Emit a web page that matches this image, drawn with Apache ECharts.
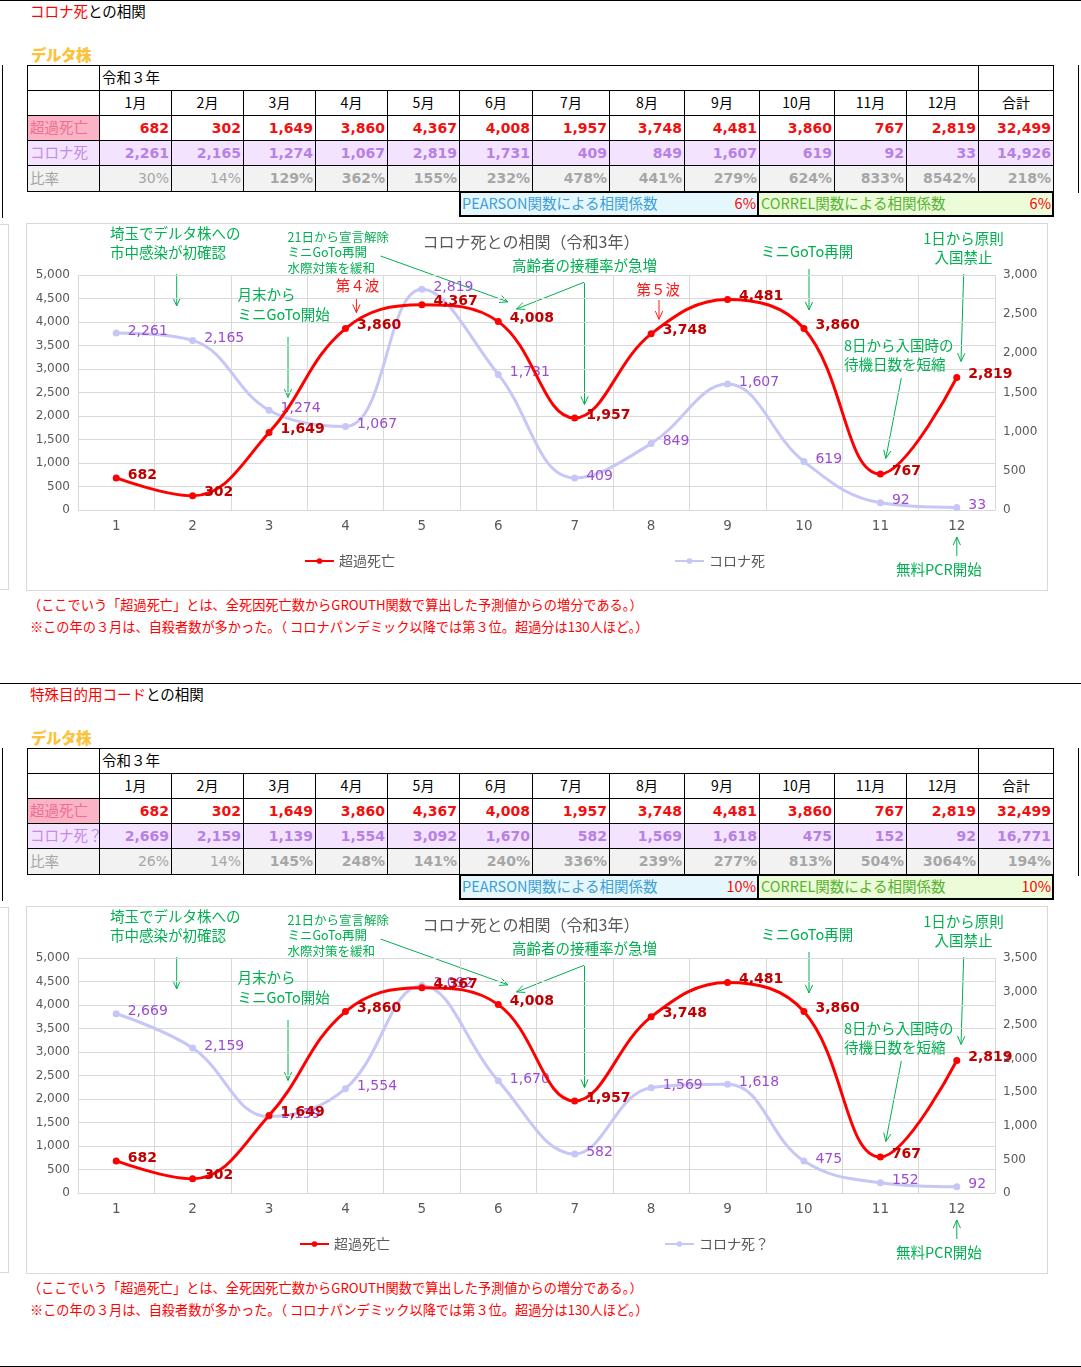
<!DOCTYPE html>
<html>
<head>
<meta charset="utf-8" />
<script src="https://cdn.jsdelivr.net/npm/echarts/dist/echarts.min.js"></script>
<style>
    body { margin: 0; background: #fff; }
    #page { position: relative; width: 1081px; height: 1367px; overflow: hidden; font-family: "Noto Sans CJK JP", sans-serif; color: #000; }
    .abs { position: absolute; white-space: nowrap; }
    .cell { position: absolute; box-sizing: border-box; border: 1px solid #000; font-size: 14px; white-space: nowrap; overflow: hidden;
            display: flex; align-items: center; padding-bottom: 3px; }
    .num { font-family: "DejaVu Sans", sans-serif; font-weight: bold; justify-content: flex-end; padding-right: 2px; font-size: 14px; padding-bottom: 1px; }
    .ctr { justify-content: center; }
    .lbl { padding-left: 2px; font-size: 14.5px; }
    .chartbox { position: absolute; box-sizing: border-box; border: 1px solid #d9d9d9; }
</style>
</head>
<body>
<div id="page"></div>
<script type="text/javascript">
    // ---- data ----
    var monthLabels = ['1月', '2月', '3月', '4月', '5月', '6月', '7月', '8月', '9月', '10月', '11月', '12月'];
    var xTicks = ['1', '2', '3', '4', '5', '6', '7', '8', '9', '10', '11', '12'];
    var excessDeaths = [682, 302, 1649, 3860, 4367, 4008, 1957, 3748, 4481, 3860, 767, 2819];
    var excessTotal = 32499;

    var coronaDeaths = [2261, 2165, 1274, 1067, 2819, 1731, 409, 849, 1607, 619, 92, 33];
    var coronaTotal = 14926;
    var ratio1 = ['30%', '14%', '129%', '362%', '155%', '232%', '478%', '441%', '279%', '624%', '833%', '8542%'];
    var ratioTotal1 = '218%';
    var pearson1 = '6%';
    var correl1 = '6%';

    var specialCodeDeaths = [2669, 2159, 1139, 1554, 3092, 1670, 582, 1569, 1618, 475, 152, 92];
    var specialCodeTotal = 16771;
    var ratio2 = ['26%', '14%', '145%', '248%', '141%', '240%', '336%', '239%', '277%', '813%', '504%', '3064%'];
    var ratioTotal2 = '194%';
    var pearson2 = '10%';
    var correl2 = '10%';

    var leftAxisMax = 5000;
    var rightAxisMax1 = 3000;
    var rightAxisMax2 = 3500;

    var colX = [27, 99, 171, 243, 315, 387, 459, 532, 609, 684, 759, 834, 906, 978, 1053];
    var rowY = [65, 90, 115, 140, 165, 191];

    var page = document.getElementById('page');

    function fmt(v) { return v.toLocaleString('en-US'); }

    function add(cls, css, html) {
        var d = document.createElement('div');
        d.className = cls;
        d.style.cssText = css;
        if (html !== undefined) d.innerHTML = html;
        page.appendChild(d);
        return d;
    }

    function cell(x1, y1, x2, y2, text, cls, css) {
        return add('cell ' + (cls || ''), 'left:' + x1 + 'px;top:' + y1 + 'px;width:' + (x2 - x1 + 1) + 'px;height:' + (y2 - y1 + 1) + 'px;' + (css || ''), text);
    }

    function buildSection(off, titleRed, covidLabel, covid, covidTotal, ratio, ratioTotal, pearson, correl, chartId) {
        // frame lines
        add('abs', 'left:0;top:' + off + 'px;width:1081px;height:1px;background:#000;');
        add('abs', 'left:2px;top:' + (off + 65) + 'px;width:1px;height:153px;background:#000;');
        add('abs', 'left:1078px;top:' + (off + 65) + 'px;width:1px;height:128px;background:#000;');
        add('abs', 'left:-1px;top:' + (off + 224) + 'px;width:10px;height:366px;box-sizing:border-box;border:1px solid #d9d9d9;');

        add('abs', 'left:30px;top:' + (off + 1) + 'px;font-size:14.5px;line-height:20px;',
            '<span style="color:#ff0000">' + titleRed + '</span>との相関');
        add('abs', 'left:31px;top:' + (off + 44) + 'px;font-size:15.5px;line-height:20px;font-weight:900;color:#fcc33a;letter-spacing:-0.5px;', 'デルタ株');

        var y = rowY.map(function (v) { return v + off; });
        // header rows
        cell(colX[0], y[0], colX[1], y[1], '');
        cell(colX[1], y[0], colX[13], y[1], '令和３年', 'lbl');
        cell(colX[13], y[0], colX[14], y[1], '');
        cell(colX[0], y[1], colX[1], y[2], '');
        for (var i = 0; i < 12; i++) cell(colX[i + 1], y[1], colX[i + 2], y[2], monthLabels[i], 'ctr');
        cell(colX[13], y[1], colX[14], y[2], '合計', 'ctr');

        // 超過死亡
        cell(colX[0], y[2], colX[1], y[3], '超過死亡', 'lbl', 'background:#fab4c6;color:#ee6f8e;');
        for (i = 0; i < 12; i++) cell(colX[i + 1], y[2], colX[i + 2], y[3], fmt(excessDeaths[i]), 'num', 'color:#f01010;');
        cell(colX[13], y[2], colX[14], y[3], fmt(excessTotal), 'num', 'color:#f01010;');

        // コロナ死
        cell(colX[0], y[3], colX[1], y[4], covidLabel, 'lbl', 'background:#f3e3ff;color:#c48ae8;');
        for (i = 0; i < 12; i++) cell(colX[i + 1], y[3], colX[i + 2], y[4], fmt(covid[i]), 'num', 'background:#f3e3ff;color:#b680e6;');
        cell(colX[13], y[3], colX[14], y[4], fmt(covidTotal), 'num', 'background:#f3e3ff;color:#b680e6;');

        // 比率
        cell(colX[0], y[4], colX[1], y[5], '比率', 'lbl', 'background:#f2f2f2;color:#a6a6a6;');
        for (i = 0; i < 12; i++) {
            var light = i < 2 ? 'font-weight:normal;' : '';
            cell(colX[i + 1], y[4], colX[i + 2], y[5], ratio[i], 'num', 'background:#f2f2f2;color:#a6a6a6;' + light);
        }
        cell(colX[13], y[4], colX[14], y[5], ratioTotal, 'num', 'background:#f2f2f2;color:#a6a6a6;');

        // correlation boxes
        var by = off + 191;
        add('abs', 'left:459px;top:' + by + 'px;width:300px;height:26px;box-sizing:border-box;border:2px solid #000;background:#e5f7fd;');
        add('abs', 'left:757px;top:' + by + 'px;width:297px;height:26px;box-sizing:border-box;border:2px solid #000;background:#edfcd8;');
        add('abs', 'left:462px;top:' + (by + 1) + 'px;font-size:14.5px;line-height:22px;color:#3e9fd6;', 'PEARSON関数による相関係数');
        add('abs', 'left:700px;width:56px;text-align:right;top:' + (by + 1) + 'px;font-size:14.5px;line-height:22px;color:#ff0000;', pearson);
        add('abs', 'left:761px;top:' + (by + 1) + 'px;font-size:14.5px;line-height:22px;color:#55b330;', 'CORREL関数による相関係数');
        add('abs', 'left:990px;width:61px;text-align:right;top:' + (by + 1) + 'px;font-size:14.5px;line-height:22px;color:#ff0000;', correl);

        // chart frame + chart
        add('chartbox', 'left:26px;top:' + (off + 223) + 'px;width:1022px;height:368px;');
        add('abs', 'left:26px;top:' + (off + 223) + 'px;width:1021px;height:367px;').id = chartId;

        // footnotes
        add('abs', 'left:28px;top:' + (off + 595) + 'px;font-size:13.2px;line-height:20px;color:#ff0000;',
            '（ここでいう「超過死亡」とは、全死因死亡数からGROUTH関数で算出した予測値からの増分である。）');
        add('abs', 'left:30px;top:' + (off + 617) + 'px;font-size:13.2px;line-height:20px;color:#ff0000;',
            '※この年の３月は、自殺者数が多かった。（ コロナパンデミック以降では第３位。超過分は130人ほど。）');
    }

    // ---- annotation helpers (chart-local pixels) ----
    var GREEN = '#00b050';
    var RED = '#ff1a1a';
    function txt(x, y, s, color, size, align) {
        return {
            type: 'text', x: x, y: y, z: 50,
            style: { text: s, fill: color, font: size + 'px "Noto Sans CJK JP"', align: align || 'left', verticalAlign: 'middle' }
        };
    }
    function arrow(x1, y1, x2, y2, color) {
        var a = Math.atan2(y2 - y1, x2 - x1), L = 9, s = 0.42;
        return {
            type: 'group', z: 50,
            children: [
                { type: 'line', shape: { x1: x1, y1: y1, x2: x2, y2: y2 }, style: { stroke: color, lineWidth: 1 } },
                { type: 'polyline', shape: { points: [
                    [x2 - L * Math.cos(a - s), y2 - L * Math.sin(a - s)], [x2, y2],
                    [x2 - L * Math.cos(a + s), y2 - L * Math.sin(a + s)]] },
                  style: { stroke: color, fill: null, lineWidth: 1 } }
            ]
        };
    }

    function notes(withWaves) {
        var g = [
            txt(505, 19, 'コロナ死との相関（令和3年）', '#595959', 16, 'center'),
            txt(84, 10.5, '埼玉でデルタ株への', GREEN, 14.5),
            txt(84, 29.7, '市中感染が初確認', GREEN, 14.5),
            arrow(150.7, 51, 150.7, 83, GREEN),
            txt(261.5, 14, '21日から宣言解除', GREEN, 12.5),
            txt(261.5, 29.7, 'ミニGoTo再開', GREEN, 12.5),
            txt(261.5, 45, '水際対策を緩和', GREEN, 12.5),
            arrow(354.5, 33, 482, 78.8, GREEN),
            txt(211.6, 71.7, '月末から', GREEN, 14.5),
            txt(211.6, 91.3, 'ミニGoTo開始', GREEN, 14.5),
            arrow(262, 114, 262, 174.4, GREEN),
            txt(486, 42.3, '高齢者の接種率が急増', GREEN, 14.5),
            arrow(558, 59.3, 490.5, 86, GREEN),
            arrow(558.5, 60, 558.5, 181.5, GREEN),
            txt(735, 28, 'ミニGoTo再開', GREEN, 14.5),
            arrow(783, 46, 783, 87, GREEN),
            txt(937.5, 15.5, '1日から原則', GREEN, 14.5, 'center'),
            txt(937.5, 34.7, '入国禁止', GREEN, 14.5, 'center'),
            arrow(937.7, 51, 935, 138.4, GREEN),
            txt(818, 122.3, '8日から入国時の', GREEN, 14.5),
            txt(818, 141, '待機日数を短縮', GREEN, 14.5),
            arrow(875.3, 155, 859.8, 235.4, GREEN),
            txt(870, 346, '無料PCR開始', GREEN, 14.5),
            arrow(930.8, 333, 930.8, 314, GREEN)
        ];
        if (withWaves) {
            g.push(txt(309.7, 62, '第４波', RED, 14.5));
            g.push(arrow(330.4, 75, 330.4, 89.6, RED));
            g.push(txt(610.6, 66, '第５波', RED, 14.5));
            g.push(arrow(633, 77, 633, 96.3, RED));
        }
        return g;
    }

    function drawChart(domId, covid, covidName, rightMax, legendLeft1, legendLeft2, withWaves) {
        var chart = echarts.init(document.getElementById(domId));
        var axisFont = { color: '#595959', fontFamily: 'DejaVu Sans', fontSize: 12 };
        var legendText = { color: '#595959', fontSize: 14, fontFamily: 'Noto Sans CJK JP' };
        var option = {
            animation: false,
            grid: { left: 52, right: 52, top: 52, bottom: 80 },
            legend: [
                { data: [{ name: '超過死亡' }], left: legendLeft1, top: 326, itemWidth: 29, itemHeight: 7, textStyle: legendText },
                { data: [{ name: covidName }], left: legendLeft2, top: 326, itemWidth: 29, itemHeight: 7, textStyle: legendText }
            ],
            xAxis: {
                type: 'category', data: xTicks, boundaryGap: true,
                axisLine: { lineStyle: { color: '#d9d9d9' } },
                axisTick: { show: false },
                axisLabel: { color: '#595959', fontFamily: 'DejaVu Sans', fontSize: 13.5, margin: 9 },
                splitLine: { show: true, interval: 0, lineStyle: { color: '#d9d9d9' } }
            },
            yAxis: [
                { type: 'value', min: 0, max: leftAxisMax, interval: 500,
                  axisLine: { show: false }, axisTick: { show: false },
                  axisLabel: Object.assign({ margin: 8, formatter: fmt }, axisFont),
                  splitLine: { lineStyle: { color: '#d9d9d9' } } },
                { type: 'value', min: 0, max: rightMax, interval: 500, position: 'right',
                  axisLine: { show: false }, axisTick: { show: false },
                  axisLabel: Object.assign({ margin: 8, formatter: fmt }, axisFont),
                  splitLine: { show: false } }
            ],
            series: [
                { name: covidName, type: 'line', yAxisIndex: 1, data: covid, smooth: 0.4, z: 2,
                  symbol: 'circle', symbolSize: 7,
                  itemStyle: { color: '#c6c6f7' }, lineStyle: { width: 3, color: '#c6c6f7' },
                  label: { show: true, position: 'right', distance: 8, offset: [0, -2], color: '#9b4ccf',
                           fontFamily: 'DejaVu Sans', fontSize: 14, formatter: function (p) { return fmt(p.value); } } },
                { name: '超過死亡', type: 'line', data: excessDeaths, smooth: 0.4, z: 3,
                  symbol: 'circle', symbolSize: 7,
                  itemStyle: { color: '#ff0000' }, lineStyle: { width: 3, color: '#ff0000' },
                  label: { show: true, position: 'right', distance: 8, offset: [0, -3], color: '#c00000',
                           fontFamily: 'DejaVu Sans', fontWeight: 'bold', fontSize: 14, formatter: function (p) { return fmt(p.value); } } }
            ],
            graphic: notes(withWaves)
        };
        chart.setOption(option);
    }

    buildSection(0, 'コロナ死', 'コロナ死', coronaDeaths, coronaTotal, ratio1, ratioTotal1, pearson1, correl1, 'chart1');
    buildSection(683, '特殊目的用コード', 'コロナ死？', specialCodeDeaths, specialCodeTotal, ratio2, ratioTotal2, pearson2, correl2, 'chart2');
    add('abs', 'left:0;top:1366px;width:1081px;height:1px;background:#000;');

    drawChart('chart1', coronaDeaths, 'コロナ死', rightAxisMax1, 273, 643, true);
    drawChart('chart2', specialCodeDeaths, 'コロナ死？', rightAxisMax2, 268, 633, false);
</script>
</body>
</html>
